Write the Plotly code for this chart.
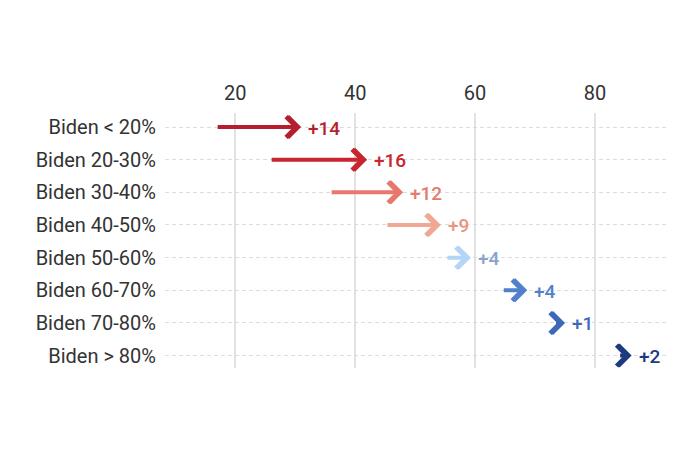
import plotly.graph_objects as go

# groups of counties by Biden share, shift in margin
groups = ['Biden < 20%', 'Biden 20-30%', 'Biden 30-40%', 'Biden 40-50%',
          'Biden 50-60%', 'Biden 60-70%', 'Biden 70-80%', 'Biden > 80%']
start = [17, 26, 36, 45.3, 55.3, 64.7, 74, 84.1]
end = [31, 42, 48, 54.3, 59.3, 68.7, 75, 86.1]
labels = ['+14', '+16', '+12', '+9', '+4', '+4', '+1', '+2']

arrow_colors = ['#b51f2d', '#c8252f', '#e8786c', '#f0a794',
                '#b3d5f8', '#5380ca', '#3e69b8', '#1c3a7e']
text_colors = ['#b51f2d', '#c8252f', '#e8786c', '#e8957f',
               '#86a3cc', '#5380ca', '#3e69b8', '#1c3a7e']

x_ticks = [20, 40, 60, 80]

fig = go.Figure()

# invisible points so the axes have something to hold on to
fig.add_trace(go.Scatter(x=start + end, y=list(range(len(groups))) * 2,
                         mode='markers', marker=dict(opacity=0),
                         hoverinfo='skip', showlegend=False))

for i in range(len(groups)):
    # shaft, stopping just short of the tip
    fig.add_annotation(x=end[i], y=i, ax=start[i], ay=i,
                       xref='x', yref='y', axref='x', ayref='y',
                       showarrow=True, arrowhead=0, arrowwidth=4,
                       arrowcolor=arrow_colors[i], standoff=6,
                       text='', font=dict(size=1), borderpad=0)
    # chevron head, drawn twice a hair apart to get a heavier stroke
    for shift in (0, -1.5):
        fig.add_annotation(x=end[i], y=i, ax=-8, ay=0,
                           xref='x', yref='y', xshift=shift,
                           showarrow=True, arrowhead=4, arrowsize=1,
                           arrowwidth=4, arrowcolor=arrow_colors[i],
                           text='', font=dict(size=1), borderpad=0)
    fig.add_annotation(x=end[i], y=i, xref='x', yref='y',
                       text=labels[i], showarrow=False,
                       xanchor='left', xshift=5, yshift=-1,
                       font=dict(family='Roboto', size=19,
                                 color=text_colors[i], weight=500))

fig.update_layout(
    width=700, height=467,
    margin=dict(l=157, r=41, t=105, b=107),
    paper_bgcolor='white', plot_bgcolor='white',
    font=dict(family='Roboto', size=20, color='#333333'),
    showlegend=False,
)

fig.update_xaxes(range=[8.3, 92], side='top', tickvals=x_ticks,
                 showgrid=True, gridcolor='#e2e2e2', gridwidth=1.5,
                 zeroline=False, showline=False, ticks='',
                 ticklabelstandoff=8, automargin=False)
fig.update_yaxes(range=[7.38, -0.43], tickvals=list(range(len(groups))),
                 ticktext=groups, showgrid=True, gridcolor='#dcdcdc',
                 griddash='4px,3px', gridwidth=1, zeroline=False,
                 showline=False, ticks='', ticklabelstandoff=8,
                 automargin=False)

fig.write_html("out.html")
